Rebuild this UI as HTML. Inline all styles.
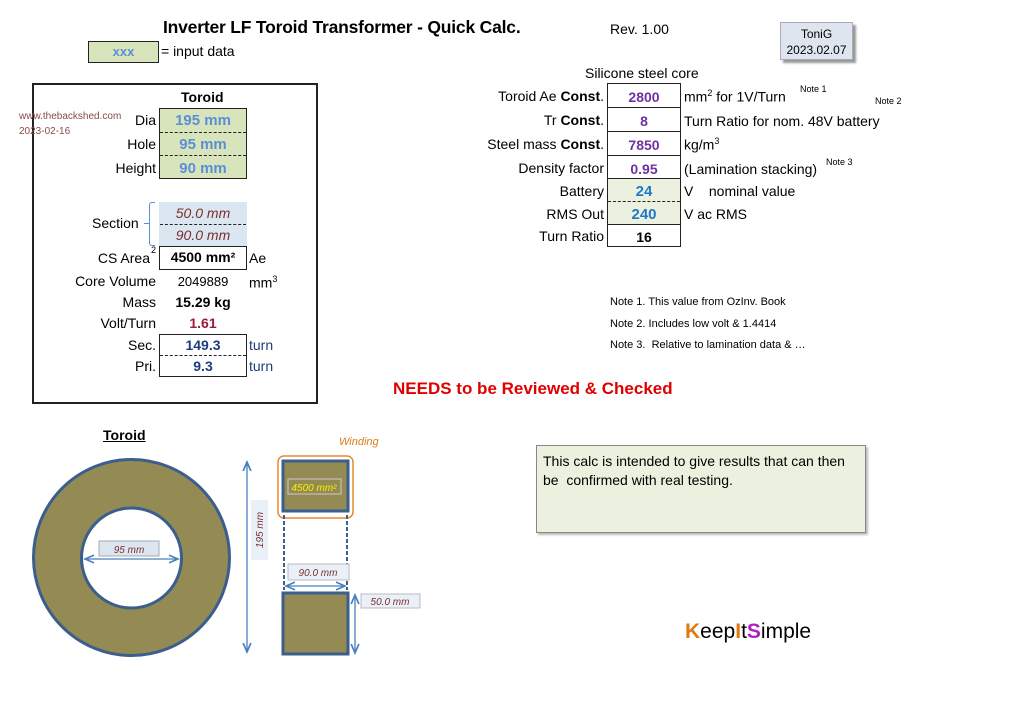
<!DOCTYPE html>
<html><head><meta charset="utf-8"><style>
*{margin:0;padding:0;box-sizing:border-box}
body{width:1024px;height:724px;background:#fff;position:relative;overflow:hidden;font-family:"Liberation Sans",sans-serif;color:#000}
.a{position:absolute;white-space:nowrap}
.r{text-align:right}
.c{text-align:center}
.t{font-size:14px}
.bx{position:absolute;border:1.5px solid #222}
.dash{position:absolute;border-top:1.5px dashed #222}
</style></head><body>
<div class="a" style="left:163px;top:17px;font-size:17.5px;font-weight:bold;letter-spacing:-0.2px">Inverter LF Toroid Transformer - Quick Calc.</div>
<div class="a t" style="left:610px;top:21px">Rev. 1.00</div>
<div class="a c" style="left:780px;top:22px;width:73px;height:38px;background:#dfe5ee;border:1px solid #aab;box-shadow:3px 3px 2px #999;font-size:12px;line-height:16px;padding-top:3px">ToniG<br>2023.02.07</div>
<div class="bx" style="left:88px;top:41px;width:71px;height:22px;background:#d8e4bc"></div>
<div class="a c" style="left:88px;top:44px;width:71px;font-size:13px;font-weight:bold;color:#5b8fd6">xxx</div>
<div class="a t" style="left:161px;top:43px">= input data</div>

<!-- left panel -->
<div class="bx" style="left:32px;top:83px;width:286px;height:321px;border-width:2px"></div>
<div class="a t" style="left:181px;top:89px;font-weight:bold">Toroid</div>
<div class="a" style="left:19px;top:109px;font-size:10px;color:#8b4a4a;line-height:15px">www.thebackshed.com<br>2023-02-16</div>
<div class="bx" style="left:159px;top:108px;width:88px;height:71px;background:#d8e4bc"></div>
<div class="dash" style="left:160px;top:132px;width:86px"></div>
<div class="dash" style="left:160px;top:155px;width:86px"></div>
<div class="a c" style="left:159px;top:112px;width:88px;font-size:15px;font-weight:bold;color:#5b8fd6">195 mm</div>
<div class="a c" style="left:159px;top:136px;width:88px;font-size:15px;font-weight:bold;color:#5b8fd6">95 mm</div>
<div class="a c" style="left:159px;top:160px;width:88px;font-size:15px;font-weight:bold;color:#5b8fd6">90 mm</div>
<div class="a t r" style="left:60px;width:96px;top:112px">Dia</div>
<div class="a t r" style="left:60px;width:96px;top:136px">Hole</div>
<div class="a t r" style="left:60px;width:96px;top:160px">Height</div>
<div class="a" style="left:159px;top:202px;width:88px;height:44px;background:#dce6f1"></div>
<div class="dash" style="left:160px;top:224px;width:86px"></div>
<div class="a c" style="left:159px;top:205px;width:88px;font-size:14px;font-style:italic;color:#7a2f2f">50.0 mm</div>
<div class="a c" style="left:159px;top:227px;width:88px;font-size:14px;font-style:italic;color:#7a2f2f">90.0 mm</div>
<div class="a" style="left:149px;top:202px;width:6px;height:44px;border:1.5px solid #5b8fd6;border-right:none;border-radius:3px 0 0 3px"></div>
<div class="a" style="left:144px;top:223px;width:5px;border-top:1.5px solid #5b8fd6"></div>
<div class="a t" style="left:92px;top:215px">Section</div>
<div class="bx" style="left:159px;top:246px;width:88px;height:24px"></div>
<div class="a c" style="left:159px;top:249px;width:88px;font-size:14px;font-weight:bold">4500 mm²</div>
<div class="a t r" style="left:60px;width:90px;top:250px">CS Area</div>
<div class="a" style="left:151px;top:245px;font-size:9px">2</div>
<div class="a t" style="left:249px;top:250px">Ae</div>
<div class="a t r" style="left:40px;width:116px;top:273px">Core Volume</div>
<div class="a c" style="left:159px;top:274px;width:88px;font-size:13px">2049889</div>
<div class="a t" style="left:249px;top:274px">mm<sup style="font-size:9px">3</sup></div>
<div class="a t r" style="left:40px;width:116px;top:294px">Mass</div>
<div class="a c" style="left:159px;top:294px;width:88px;font-size:14px;font-weight:bold">15.29 kg</div>
<div class="a t r" style="left:40px;width:116px;top:315px">Volt/Turn</div>
<div class="a c" style="left:159px;top:315px;width:88px;font-size:14px;font-weight:bold;color:#a0183a">1.61</div>
<div class="bx" style="left:159px;top:334px;width:88px;height:43px"></div>
<div class="dash" style="left:160px;top:355px;width:86px"></div>
<div class="a t r" style="left:40px;width:116px;top:337px">Sec.</div>
<div class="a t r" style="left:40px;width:116px;top:358px">Pri.</div>
<div class="a c" style="left:159px;top:337px;width:88px;font-size:14px;font-weight:bold;color:#1f3d7a">149.3</div>
<div class="a c" style="left:159px;top:358px;width:88px;font-size:14px;font-weight:bold;color:#1f3d7a">9.3</div>
<div class="a t" style="left:249px;top:337px;color:#1f3d7a">turn</div>
<div class="a t" style="left:249px;top:358px;color:#1f3d7a">turn</div>

<!-- right table -->
<div class="a t" style="left:585px;top:65px">Silicone steel core</div>
<div class="a" style="left:607px;top:178px;width:74px;height:46px;background:#ebf1de"></div>
<div class="bx" style="left:607px;top:83px;width:74px;height:164px"></div>
<div class="a" style="left:607px;top:107px;width:74px;border-top:1.5px solid #222"></div>
<div class="a" style="left:607px;top:131px;width:74px;border-top:1.5px solid #222"></div>
<div class="a" style="left:607px;top:155px;width:74px;border-top:1.5px solid #222"></div>
<div class="a" style="left:607px;top:178px;width:74px;border-top:1.5px solid #222"></div>
<div class="dash" style="left:608px;top:201px;width:72px"></div>
<div class="a" style="left:607px;top:224px;width:74px;border-top:1.5px solid #222"></div>
<div class="a t r" style="left:440px;width:164px;top:88px">Toroid Ae <b>Const</b>.</div>
<div class="a t r" style="left:440px;width:164px;top:112px">Tr <b>Const</b>.</div>
<div class="a t r" style="left:440px;width:164px;top:136px">Steel mass <b>Const</b>.</div>
<div class="a t r" style="left:440px;width:164px;top:160px">Density factor</div>
<div class="a t r" style="left:440px;width:164px;top:183px">Battery</div>
<div class="a t r" style="left:440px;width:164px;top:206px">RMS Out</div>
<div class="a t r" style="left:440px;width:164px;top:228px">Turn Ratio</div>
<div class="a c" style="left:607px;top:89px;width:74px;font-size:14px;font-weight:bold;color:#7030a0">2800</div>
<div class="a c" style="left:607px;top:113px;width:74px;font-size:14px;font-weight:bold;color:#7030a0">8</div>
<div class="a c" style="left:607px;top:137px;width:74px;font-size:14px;font-weight:bold;color:#7030a0">7850</div>
<div class="a c" style="left:607px;top:161px;width:74px;font-size:14px;font-weight:bold;color:#7030a0">0.95</div>
<div class="a c" style="left:607px;top:183px;width:74px;font-size:15px;font-weight:bold;color:#1f77c8">24</div>
<div class="a c" style="left:607px;top:206px;width:74px;font-size:15px;font-weight:bold;color:#1f77c8">240</div>
<div class="a c" style="left:607px;top:229px;width:74px;font-size:14px;font-weight:bold">16</div>
<div class="a t" style="left:684px;top:88px">mm<sup style="font-size:9px">2</sup> for 1V/Turn</div>
<div class="a" style="left:800px;top:84px;font-size:9px">Note 1</div>
<div class="a" style="left:875px;top:96px;font-size:9px">Note 2</div>
<div class="a t" style="left:684px;top:113px">Turn Ratio for nom. 48V battery</div>
<div class="a t" style="left:684px;top:136px">kg/m<sup style="font-size:9px">3</sup></div>
<div class="a t" style="left:684px;top:161px">(Lamination stacking)</div>
<div class="a" style="left:826px;top:157px;font-size:9px">Note 3</div>
<div class="a t" style="left:684px;top:183px">V&nbsp;&nbsp;&nbsp; nominal value</div>
<div class="a t" style="left:684px;top:206px">V ac RMS</div>
<div class="a" style="left:610px;top:296px;font-size:11px">Note 1. This value from OzInv. Book</div>
<div class="a" style="left:610px;top:318px;font-size:11px">Note 2. Includes low volt &amp; 1.4414</div>
<div class="a" style="left:610px;top:339px;font-size:11px">Note 3.&nbsp; Relative to lamination data &amp; …</div>
<div class="a" style="left:393px;top:379px;font-size:17px;font-weight:bold;color:#e00000">NEEDS to be Reviewed &amp; Checked</div>

<!-- drawings -->
<div class="a" style="left:103px;top:427px;font-size:14px;font-weight:bold;text-decoration:underline">Toroid</div>
<div class="a" style="left:339px;top:436px;font-size:11px;font-style:italic;color:#e07a20">Winding</div>
<svg class="a" style="left:0;top:0" width="1024" height="724">
<defs><marker id="ar" markerWidth="8" markerHeight="8" refX="7" refY="4" orient="auto-start-reverse"><path d="M0,1 L7,4 L0,7" fill="none" stroke="#4a7fc0" stroke-width="1.3"/></marker></defs>
<circle cx="131.5" cy="557.5" r="98" fill="#948a54" stroke="#3b5e8c" stroke-width="3"/>
<circle cx="131.5" cy="558" r="50" fill="#fff" stroke="#3b5e8c" stroke-width="3"/>
<rect x="99" y="541" width="60" height="15" fill="#dce6f1" stroke="#aaa"/>
<text x="129" y="553" font-family="Liberation Sans" font-size="10" font-style="italic" fill="#7a2f2f" text-anchor="middle">95 mm</text>
<line x1="85" y1="559" x2="178" y2="559" stroke="#4a7fc0" stroke-width="1.3" marker-start="url(#ar)" marker-end="url(#ar)"/>
<line x1="247" y1="462" x2="247" y2="652" stroke="#4a7fc0" stroke-width="1.3" marker-start="url(#ar)" marker-end="url(#ar)"/>
<rect x="251" y="500" width="17" height="60" fill="#eaf0f8"/>
<text transform="translate(263,530) rotate(-90)" font-family="Liberation Sans" font-size="10" font-style="italic" fill="#7a2f2f" text-anchor="middle">195 mm</text>
<rect x="278" y="456" width="75" height="62" rx="6" fill="none" stroke="#e88a2a" stroke-width="1.5"/>
<rect x="283" y="461" width="65" height="50" fill="#948a54" stroke="#3b5e8c" stroke-width="3"/>
<rect x="288" y="479" width="53" height="15" fill="none" stroke="#ccc"/>
<text x="314" y="491" font-family="Liberation Sans" font-size="10" font-style="italic" fill="#f5f200" text-anchor="middle">4500 mm²</text>
<line x1="284" y1="515" x2="284" y2="590" stroke="#3b5e8c" stroke-width="2" stroke-dasharray="4,2"/>
<line x1="347" y1="515" x2="347" y2="590" stroke="#3b5e8c" stroke-width="2" stroke-dasharray="4,2"/>
<rect x="288" y="564" width="61" height="16" fill="#eaf0f8" stroke="#bbb"/>
<text x="318" y="576" font-family="Liberation Sans" font-size="10" font-style="italic" fill="#7a2f2f" text-anchor="middle">90.0 mm</text>
<line x1="286" y1="586" x2="345" y2="586" stroke="#4a7fc0" stroke-width="1.3" marker-start="url(#ar)" marker-end="url(#ar)"/>
<rect x="283" y="593" width="65" height="61" fill="#948a54" stroke="#3b5e8c" stroke-width="3"/>
<line x1="355" y1="595" x2="355" y2="653" stroke="#4a7fc0" stroke-width="1.3" marker-start="url(#ar)" marker-end="url(#ar)"/>
<rect x="361" y="594" width="59" height="14" fill="#eaf0f8" stroke="#bbb"/>
<text x="390" y="605" font-family="Liberation Sans" font-size="10" font-style="italic" fill="#7a2f2f" text-anchor="middle">50.0 mm</text>
</svg>
<div class="a" style="left:536px;top:445px;width:330px;height:88px;background:#ebf1de;border:1px solid #888;box-shadow:2px 2px 2px #bbb"></div>
<div class="a" style="left:543px;top:452px;font-size:14px;line-height:19px;white-space:normal;width:310px">This calc is intended to give results that can then be&nbsp; confirmed with real testing.</div>
<div class="a" style="left:685px;top:620px;font-size:21px"><span style="color:#e07a10;font-weight:bold">K</span>eep<span style="color:#e07a10;font-weight:bold">I</span>t<span style="color:#b020c0;font-weight:bold">S</span>imple</div>
</body></html>
